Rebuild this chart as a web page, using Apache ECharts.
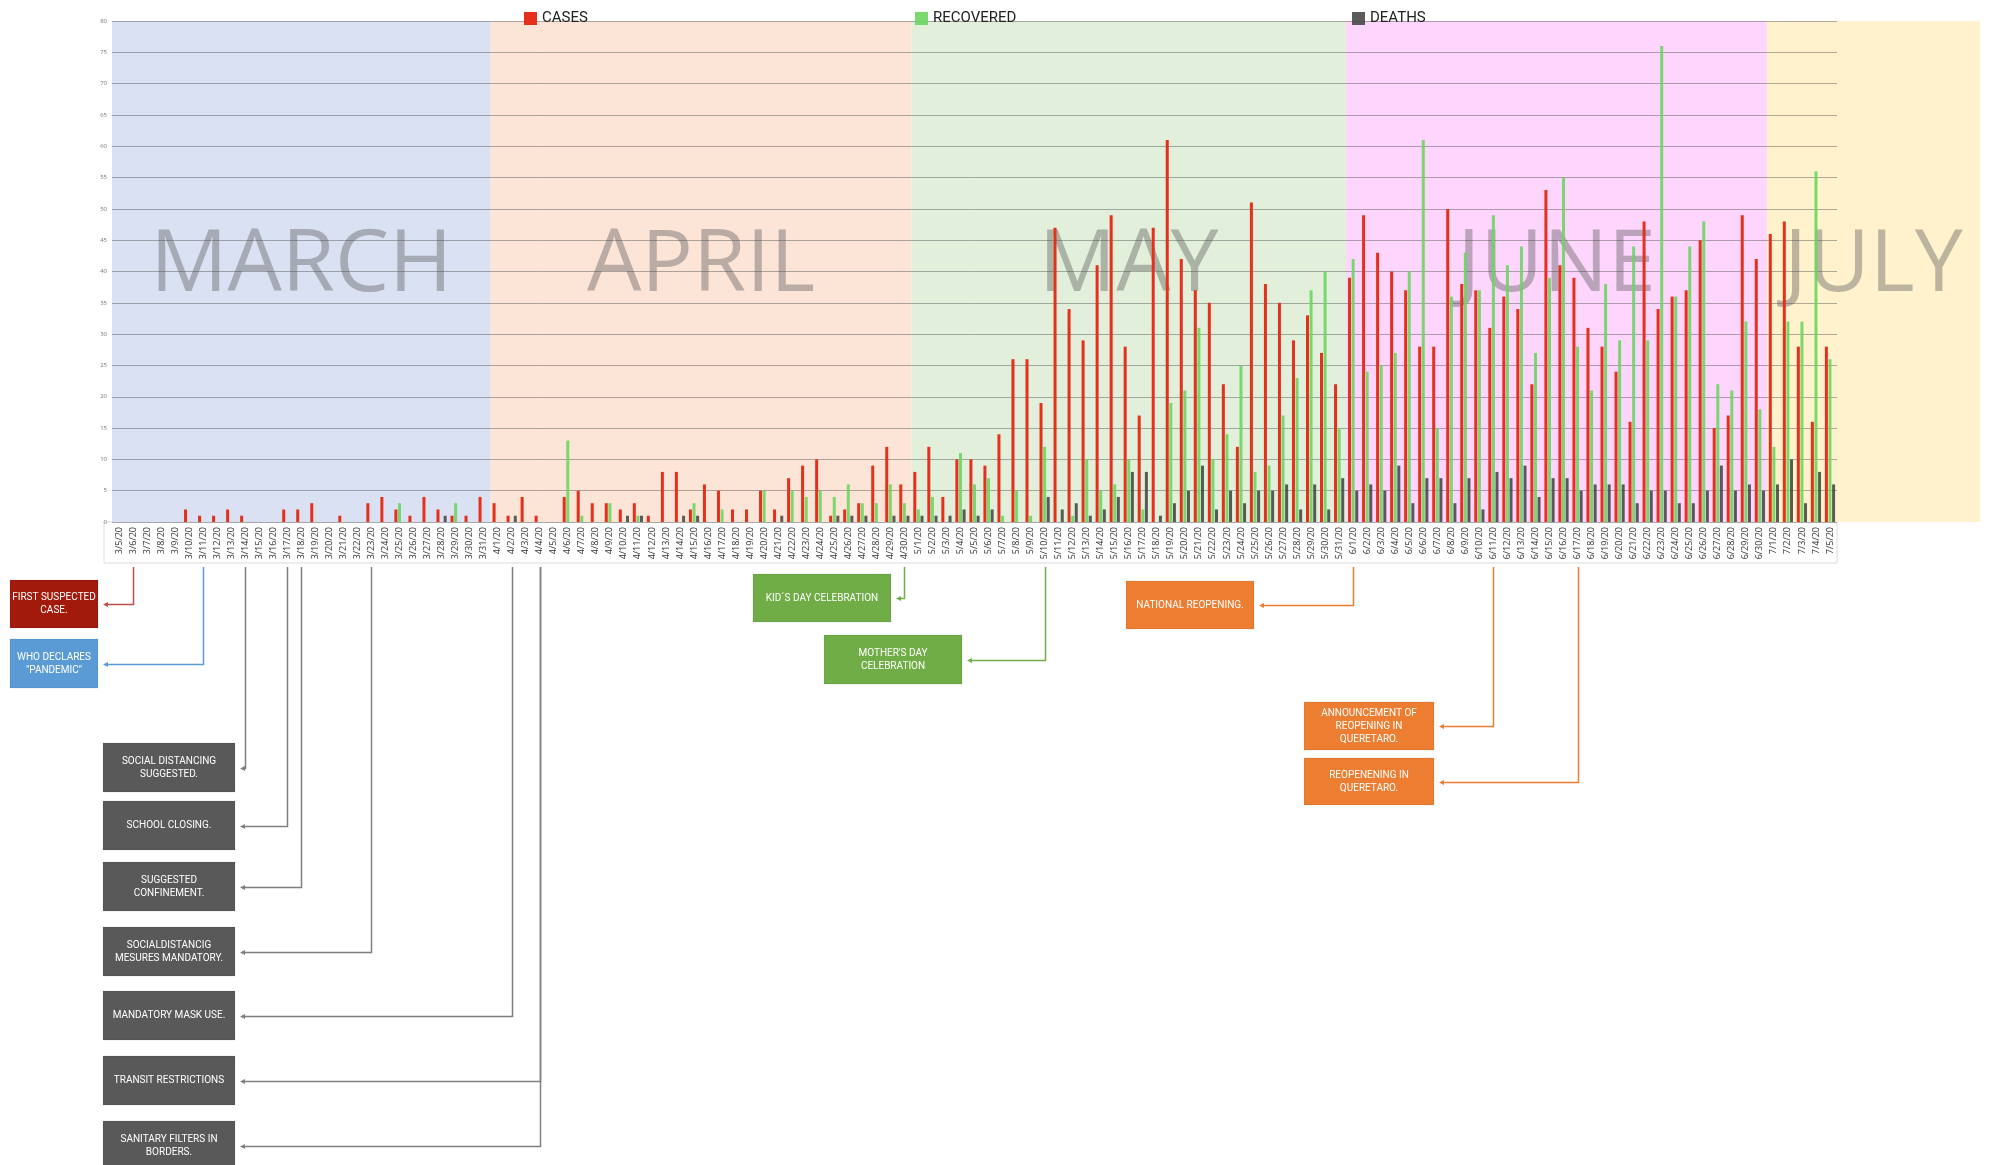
<!DOCTYPE html>
<html>
<head>
<meta charset="utf-8">
<script src="https://cdn.jsdelivr.net/npm/echarts@6/dist/echarts.min.js"></script>
<style>
html, body {
  margin: 0;
  padding: 0;
  background: #FFF;
}
#chart {
  width: 1990px;
  height: 1165px;
}
</style>
</head>
<body>
<div id="chart"></div>
<script>
var days = [
  '3/5/20','3/6/20','3/7/20','3/8/20','3/9/20','3/10/20','3/11/20','3/12/20','3/13/20','3/14/20',
  '3/15/20','3/16/20','3/17/20','3/18/20','3/19/20','3/20/20','3/21/20','3/22/20','3/23/20','3/24/20',
  '3/25/20','3/26/20','3/27/20','3/28/20','3/29/20','3/30/20','3/31/20',
  '4/1/20','4/2/20','4/3/20','4/4/20','4/5/20','4/6/20','4/7/20','4/8/20','4/9/20','4/10/20',
  '4/11/20','4/12/20','4/13/20','4/14/20','4/15/20','4/16/20','4/17/20','4/18/20','4/19/20','4/20/20',
  '4/21/20','4/22/20','4/23/20','4/24/20','4/25/20','4/26/20','4/27/20','4/28/20','4/29/20','4/30/20',
  '5/1/20','5/2/20','5/3/20','5/4/20','5/5/20','5/6/20','5/7/20','5/8/20','5/9/20','5/10/20',
  '5/11/20','5/12/20','5/13/20','5/14/20','5/15/20','5/16/20','5/17/20','5/18/20','5/19/20','5/20/20',
  '5/21/20','5/22/20','5/23/20','5/24/20','5/25/20','5/26/20','5/27/20','5/28/20','5/29/20','5/30/20','5/31/20',
  '6/1/20','6/2/20','6/3/20','6/4/20','6/5/20','6/6/20','6/7/20','6/8/20','6/9/20','6/10/20',
  '6/11/20','6/12/20','6/13/20','6/14/20','6/15/20','6/16/20','6/17/20','6/18/20','6/19/20','6/20/20',
  '6/21/20','6/22/20','6/23/20','6/24/20','6/25/20','6/26/20','6/27/20','6/28/20','6/29/20','6/30/20',
  '7/1/20','7/2/20','7/3/20','7/4/20','7/5/20'
]

var cases = [
  0, 0, 0, 0, 0, 2, 1, 1, 2, 1, 0, 0, 2, 2, 3, 0, 1, 0, 3, 4, 2, 1, 4, 2, 1, 1, 4,
  3, 1, 4, 1, 0, 4, 5, 3, 3, 2, 3, 1, 8, 8, 2, 6, 5, 2, 2, 5, 2, 7, 9, 10, 1, 2, 3, 9, 12, 6,
  8, 12, 4, 10, 10, 9, 14, 26, 26, 19, 47, 34, 29, 41, 49, 28, 17, 47, 61, 42, 37, 35, 22, 12, 51, 38, 35, 29, 33, 27, 22,
  39, 49, 43, 40, 37, 28, 28, 50, 38, 37, 31, 36, 34, 22, 53, 41, 39, 31, 28, 24, 16, 48, 34, 36, 37, 45, 15, 17, 49, 42,
  46, 48, 28, 16, 28
]

var recovered = [
  0, 0, 0, 0, 0, 0, 0, 0, 0, 0, 0, 0, 0, 0, 0, 0, 0, 0, 0, 0, 3, 0, 0, 0, 3, 0, 0,
  0, 0, 0, 0, 0, 13, 1, 0, 3, 0, 1, 0, 0, 0, 3, 0, 2, 0, 0, 5, 0, 5, 4, 5, 4, 6, 3, 3, 6, 3,
  2, 4, 0, 11, 6, 7, 1, 5, 1, 12, 0, 1, 10, 5, 6, 10, 2, 0, 19, 21, 31, 10, 14, 25, 8, 9, 17, 23, 37, 40, 15,
  42, 24, 25, 27, 40, 61, 15, 36, 43, 37, 49, 41, 44, 27, 39, 55, 28, 21, 38, 29, 44, 29, 76, 36, 44, 48, 22, 21, 32, 18,
  12, 32, 32, 56, 26
]

var deaths = [
  0, 0, 0, 0, 0, 0, 0, 0, 0, 0, 0, 0, 0, 0, 0, 0, 0, 0, 0, 0, 0, 0, 0, 1, 0, 0, 0,
  0, 1, 0, 0, 0, 0, 0, 0, 0, 1, 1, 0, 0, 1, 1, 0, 0, 0, 0, 0, 1, 0, 0, 0, 1, 1, 1, 0, 1, 1,
  1, 1, 1, 2, 1, 2, 0, 0, 0, 4, 2, 3, 1, 2, 4, 8, 8, 1, 3, 5, 9, 2, 5, 3, 5, 5, 6, 2, 6, 2, 7,
  5, 6, 5, 9, 3, 7, 7, 3, 7, 2, 8, 7, 9, 4, 7, 7, 5, 6, 6, 6, 3, 5, 5, 3, 3, 5, 9, 5, 6, 5,
  6, 10, 3, 8, 6
]

var monthNames = ['MARCH', 'APRIL', 'MAY', 'JUNE', 'JULY']
var monthFirst = ['3/5/20', '4/1/20', '5/1/20', '6/1/20', '7/1/20']
var monthLast = ['3/31/20', '4/30/20', '5/31/20', '6/30/20', '7/5/20']
var monthColors = ['#D9E1F2', '#FCE4D6', '#E2EFDA', '#FED5FD', '#FFF2CC']

var eventDates = ['3/6/20', '3/11/20', '3/14/20', '3/17/20', '3/18/20', '3/23/20', '4/2/20', '4/4/20', '4/4/20',
  '4/30/20', '5/10/20', '6/1/20', '6/11/20', '6/17/20']
var eventTexts = [
  'FIRST SUSPECTED\nCASE.',
  'WHO DECLARES\n"PANDEMIC"',
  'SOCIAL DISTANCING\nSUGGESTED.',
  'SCHOOL CLOSING.',
  'SUGGESTED\nCONFINEMENT.',
  'SOCIALDISTANCIG\nMESURES MANDATORY.',
  'MANDATORY MASK USE.',
  'TRANSIT RESTRICTIONS',
  'SANITARY FILTERS IN\nBORDERS.',
  'KID´S DAY CELEBRATION',
  'MOTHER\'S DAY\nCELEBRATION',
  'NATIONAL REOPENING.',
  'ANNOUNCEMENT OF\nREOPENING IN\nQUERETARO.',
  'REOPENENING IN\nQUERETARO.'
]

// box layout: x, y, w, h, fill, line colour
var boxes = [
  [10, 580, 88, 48, '#A11A0C', '#C0504D'],
  [10, 639, 88, 49, '#5B9BD5', '#5B9BD5'],
  [103, 743, 132, 49, '#595959', '#7F7F7F'],
  [103, 801, 132, 49, '#595959', '#7F7F7F'],
  [103, 862, 132, 49, '#595959', '#7F7F7F'],
  [103, 927, 132, 49, '#595959', '#7F7F7F'],
  [103, 991, 132, 49, '#595959', '#7F7F7F'],
  [103, 1056, 132, 49, '#595959', '#7F7F7F'],
  [103, 1121, 132, 50, '#595959', '#7F7F7F'],
  [753, 574, 138, 48, '#70AD47', '#70AD47'],
  [824, 635, 138, 49, '#70AD47', '#70AD47'],
  [1126, 581, 128, 48, '#ED7D31', '#ED7D31'],
  [1304, 702, 130, 48, '#ED7D31', '#ED7D31'],
  [1304, 758, 130, 47, '#ED7D31', '#ED7D31']
]

var chart = echarts.init(document.getElementById('chart'))

var bands = monthNames.map(function (name, i) {
  return [days.indexOf(monthFirst[i]), days.indexOf(monthLast[i]), i]
})

function renderBand (params, api) {
  var i = api.value(2)
  var w = api.size([1, 0])[0]
  var s = api.coord([api.value(0), 80])
  var e = api.coord([api.value(1), 0])
  var x0 = s[0] - w / 2
  var x1 = e[0] + w / 2
  if (i === monthNames.length - 1) x1 = api.getWidth() - 10
  return {
    type: 'group',
    children: [
      {
        type: 'rect',
        shape: { x: x0, y: s[1], width: x1 - x0, height: e[1] - s[1] },
        style: { fill: monthColors[i] }
      },
      {
        type: 'text',
        style: {
          text: monthNames[i],
          x: (x0 + x1) / 2,
          y: 266,
          align: 'center',
          verticalAlign: 'middle',
          fontSize: 86,
          fontFamily: 'Open Sans',
          fill: 'rgba(95,95,95,0.42)'
        }
      }
    ]
  }
}

var barStyle = { barWidth: 3, barGap: '20%', z: 2 }

chart.setOption({
  animation: false,
  textStyle: { fontFamily: 'Open Sans' },
  grid: { left: 112, right: 153, top: 21, bottom: 643 },
  legend: [
    { data: ['CASES'], left: 519, top: 6 },
    { data: ['RECOVERED'], left: 910, top: 6 },
    { data: ['DEATHS'], left: 1347, top: 6 }
  ].map(function (l) {
    return Object.assign(l, {
      icon: 'rect', itemWidth: 13, itemHeight: 13, itemGap: 8,
      textStyle: { fontSize: 15, color: '#222', fontFamily: 'Roboto' }
    })
  }),
  xAxis: {
    type: 'category',
    data: days,
    z: 1,
    axisTick: { show: false },
    axisLine: { show: false },
    axisLabel: { interval: 0, rotate: 90, fontSize: 9, color: '#333', margin: 5 }
  },
  yAxis: {
    type: 'value',
    min: 0,
    max: 80,
    interval: 5,
    z: 1,
    axisLabel: { fontSize: 6, color: '#777', margin: 5 },
    splitLine: { lineStyle: { color: 'rgba(80,80,80,0.45)', width: 1 } }
  },
  series: [
    {
      type: 'custom',
      z: 0,
      silent: true,
      renderItem: renderBand,
      encode: { x: [0, 1] },
      data: bands
    },
    Object.assign({ name: 'CASES', type: 'bar', data: cases, itemStyle: { color: '#E5301B' } }, barStyle),
    Object.assign({ name: 'RECOVERED', type: 'bar', data: recovered, itemStyle: { color: 'rgba(108,214,96,0.9)' } }, barStyle),
    Object.assign({ name: 'DEATHS', type: 'bar', data: deaths, itemStyle: { color: 'rgba(70,70,70,0.88)' } }, barStyle)
  ]
})

// annotation boxes and their connectors
var graphics = [
  {
    type: 'rect',
    z: -1,
    shape: { x: 104, y: 522, width: 1733, height: 41 },
    style: { fill: '#FFF', stroke: '#DDD', lineWidth: 1 }
  }
]
eventDates.forEach(function (d, i) {
  var b = boxes[i]
  var cx = Math.round(chart.convertToPixel({ xAxisIndex: 0 }, d)) + 0.5
  var cy = Math.round(b[1] + b[3] / 2) + 0.5
  var ax = b[0] + b[2] + 5
  graphics.push({
    type: 'rect',
    shape: { x: b[0], y: b[1], width: b[2], height: b[3] },
    style: { fill: b[4], stroke: 'rgba(0,0,0,0.08)', lineWidth: 1 }
  })
  graphics.push({
    type: 'text',
    style: {
      text: eventTexts[i],
      x: b[0] + b[2] / 2,
      y: b[1] + b[3] / 2,
      align: 'center',
      verticalAlign: 'middle',
      fill: '#FFF',
      fontSize: 10,
      lineHeight: 13,
      fontFamily: 'Roboto'
    }
  })
  graphics.push({
    type: 'polyline',
    shape: { points: [[cx, 567], [cx, cy], [ax + 3, cy]] },
    style: { stroke: b[5], lineWidth: 1.5, fill: null }
  })
  graphics.push({
    type: 'polygon',
    shape: { points: [[ax, cy], [ax + 5, cy - 2.5], [ax + 5, cy + 2.5]] },
    style: { fill: b[5] }
  })
})
chart.setOption({ graphic: graphics })
</script>
</body>
</html>
